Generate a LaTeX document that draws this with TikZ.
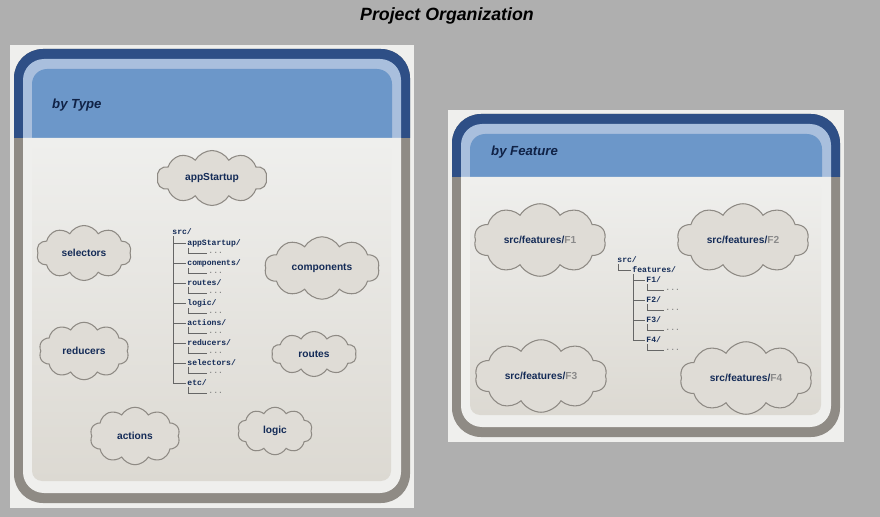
\documentclass[tikz,border=0pt]{standalone}
\usepackage{fontspec}
\setmainfont{Liberation Sans}
\newfontfamily\treefont{Liberation Mono}
\usetikzlibrary{shapes.symbols}

\definecolor{pagebg}{HTML}{AFAFAF}
\definecolor{panelbg}{HTML}{EFEFED}
\definecolor{frameblue}{HTML}{2E4F86}
\definecolor{framegray}{HTML}{8F8B85}
\definecolor{headlight}{HTML}{A9BFDD}
\definecolor{headblue}{HTML}{6C97C9}
\definecolor{contentbot}{HTML}{DCD9D2}
\definecolor{cloudfill}{HTML}{DFDCD6}
\definecolor{cloudline}{HTML}{8E8A84}
\definecolor{navy}{HTML}{142B57}
\definecolor{fgray}{HTML}{8A8A8A}

% panel: #1 left, #2 top, #3 right, #4 bottom, #5 bottom of the header
\newcommand{\orgpanel}[5]{%
  \fill[panelbg] (#1,#2) rectangle (#3,#4);
  \fill[framegray, rounded corners=0.58cm] (#1+4,#2+4) rectangle (#3-4,#4-5);
  \begin{scope}
    \clip (#1,#2) rectangle (#3,#5);
    \fill[frameblue, rounded corners=0.58cm] (#1+4,#2+4) rectangle (#3-4,#4-5);
    \fill[headlight, rounded corners=0.42cm] (#1+13,#2+14) rectangle (#3-13,#4-15);
    \fill[headblue, rounded corners=0.3cm] (#1+22,#2+24) rectangle (#3-22,#4-15);
  \end{scope}
  \fill[panelbg] (#1+13,#5) [rounded corners=0.42cm] -- (#1+13,#4-15) -- (#3-13,#4-15) [sharp corners] -- (#3-13,#5) -- cycle;
  \shade[top color=panelbg, bottom color=contentbot, rounded corners=0.2cm]
    (#1+22,#5+2) rectangle (#3-23,#4-27);
}

\begin{document}
\begin{tikzpicture}[x=0.02cm, y=-0.02cm,
    cloudbox/.style={cloud, cloud puffs=10, cloud puff arc=120, cloud ignores aspect,
      draw=cloudline, fill=cloudfill, line width=0.6pt, inner sep=0pt,
      text=navy, font=\bfseries\fontsize{5.8}{7}\selectfont},
    dir/.style={anchor=west, inner sep=0.6pt, text=navy,
      font=\treefont\bfseries\fontsize{4.6}{5}\selectfont},
    more/.style={dir, text=fgray},
    treeline/.style={draw=black!60, line width=0.4pt},
    heading/.style={anchor=west, text=navy!80!black,
      font=\bfseries\itshape\fontsize{7.5}{9}\selectfont}]
  \useasboundingbox (0,0) rectangle (880,517);
  \fill[pagebg] (0,0) rectangle (880,517);

  % title
  \node[font=\bfseries\itshape\fontsize{10.1}{12}\selectfont] (title) at (447,16) {Project Organization};

  % panels
  \orgpanel{10}{45}{414}{508}{138}
  \orgpanel{448}{110}{844}{442}{177}
  \node[heading] (bytype) at (46,105) {by Type};
  \node[heading] (byfeature) at (485,152) {by Feature};

  % by type : clouds
  \node[cloudbox, minimum width=2.2cm, minimum height=1.1cm] (appstartup) at (212,178) {appStartup};
  \node[cloudbox, minimum width=1.9cm, minimum height=1.1cm] (selectors) at (84,253) {selectors};
  \node[cloudbox, minimum width=2.3cm, minimum height=1.25cm] (components) at (322,268) {components};
  \node[cloudbox, minimum width=1.8cm, minimum height=1.15cm] (reducers) at (84,351) {reducers};
  \node[cloudbox, minimum width=1.7cm, minimum height=0.9cm] (routes) at (314,354) {routes};
  \node[cloudbox, minimum width=1.8cm, minimum height=1.15cm] (actions) at (135,436) {actions};
  \node[cloudbox, minimum width=1.5cm, minimum height=0.95cm] (logic) at (275,431) {logic};

  % by type : tree
  \node[dir] (src) at (171,232) {src/};
  \foreach \d [count=\i] in {appStartup,components,routes,logic,actions,reducers,selectors,etc} {
    \node[dir] (d\i) at (186,223+20*\i) {\d/};
    \node[more] (e\i) at (207,233+20*\i) {...};
    \draw[treeline] ([xshift=1.5pt]src.south west) |- (d\i.west);
    \draw[treeline] ([xshift=1.5pt]d\i.south west) |- (e\i.west);
  }

  % by feature : clouds
  \foreach \f/\px/\py in {1/540/240, 2/743/240, 3/541/376, 4/746/378}
    \node[cloudbox, minimum width=2.64cm, minimum height=1.45cm] (f\f) at (\px,\py)
      {src/features/\textcolor{fgray}{F\f}};

  % by feature : tree
  \node[dir] (fsrc) at (616,260) {src/};
  \node[dir] (features) at (631,270) {features/};
  \draw[treeline] ([xshift=1.5pt]fsrc.south west) |- (features.west);
  \foreach \i in {1,...,4} {
    \node[dir] (g\i) at (645,260+20*\i) {F\i/};
    \node[more] (h\i) at (664,270+20*\i) {...};
    \draw[treeline] ([xshift=1.5pt]features.south west) |- (g\i.west);
    \draw[treeline] ([xshift=1.5pt]g\i.south west) |- (h\i.west);
  }
\end{tikzpicture}
\end{document}
